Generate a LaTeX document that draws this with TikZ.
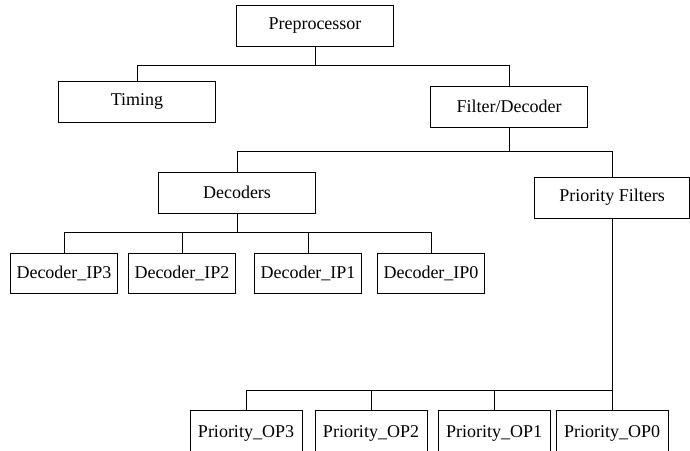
\documentclass[tikz,border=0pt]{standalone}
\usepackage{fontspec}
\setmainfont{Liberation Serif}

\begin{document}
\begin{tikzpicture}[x=1pt,y=-1pt,line width=0.9pt,
    box/.style={draw,rectangle,inner sep=0pt,minimum width=157pt,minimum height=41pt,
      font=\fontsize{18}{20}\selectfont},
    leaf/.style={box,minimum width=107pt,minimum height=40pt},
    outleaf/.style={box,minimum width=112pt,minimum height=46pt}]
      \useasboundingbox (0,0) rectangle (690,450);

      \node[box] (0) at (315,25.5) {Preprocessor};
      \node[box] (1) at (137,101.5) {Timing};
      \node[box] (2) at (509,106.5) {Filter/Decoder};
      \node[box] (3) at (237,192.5) {Decoders};
      \node[box,minimum width=155pt] (4) at (612,197.5) {Priority Filters};

      \node[leaf] (5) at (64,273) {Decoder\_IP3};
      \node[leaf] (6) at (182,273) {Decoder\_IP2};
      \node[leaf] (7) at (308,273) {Decoder\_IP1};
      \node[leaf] (8) at (431,273) {Decoder\_IP0};

      \node[outleaf] (9) at (246,433) {Priority\_OP3};
      \node[outleaf] (10) at (371,433) {Priority\_OP2};
      \node[outleaf] (11) at (494,433) {Priority\_OP1};
      \node[outleaf] (12) at (612,433) {Priority\_OP0};

      \draw (0.south) -- ++(0,20);
      \draw (1.north) -- ++(0,-15) -| (2.north);

      \draw (2.south) -- ++(0,25);
      \draw (3.north) -- ++(0,-20) -| (4.north);

      \draw (3.south) -- ++(0,20);
      \draw (5.north) -- ++(0,-20) -| (8.north);
      \foreach \n in {6,7}
        \draw (\n.north) -- ++(0,-20);

      \draw (4.south) -- ++(0,172) -| (9.north);
      \foreach \n in {10,11,12}
        \draw (\n.north) -- ++(0,-20);

    \end{tikzpicture}
\end{document}
